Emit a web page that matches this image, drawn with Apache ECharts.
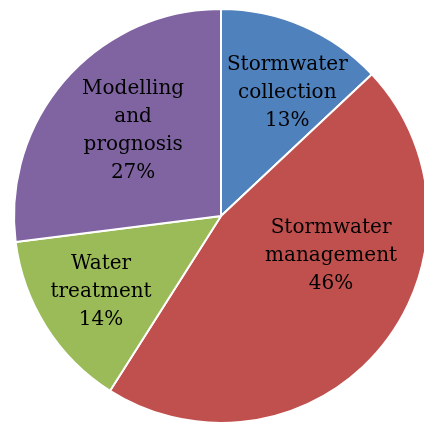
<!DOCTYPE html>
<html>
<head>
<meta charset="utf-8">
<script src="https://cdn.jsdelivr.net/npm/echarts@6/dist/echarts.min.js"></script>
<style>html,body{margin:0;padding:0;background:#fff;}#c{width:424px;height:428px;}</style>
</head>
<body>
<div id="c"></div>
<script>
const categories = ['Stormwater collection', 'Stormwater management', 'Water treatment', 'Modelling and prognosis'];
const values = [13, 46, 14, 27];
const colors = ['#4F81BD', '#C0504D', '#9BBB59', '#8064A2'];
const labelOffsets = [[24, -25], [28, -28], [-30, 19], [-8, -15]];

const chart = echarts.init(document.getElementById('c'), null, {renderer: 'canvas'});
chart.setOption({
  animation: false,
  series: [{
    type: 'pie',
    center: [221, 216],
    radius: 207,
    startAngle: 90,
    clockwise: true,
    avoidLabelOverlap: false,
    itemStyle: {borderColor: '#fff', borderWidth: 2},
    label: {
      position: 'inside',
      color: '#000',
      fontFamily: 'DejaVu Serif',
      fontSize: 20,
      lineHeight: 28,
      align: 'center',
      formatter: p => p.name.split(' ').join('\n') + '\n' + p.value + '%'
    },
    labelLine: {show: false},
    emphasis: {disabled: true},
    data: categories.map((n, i) => ({
      name: n, value: values[i],
      itemStyle: {color: colors[i]},
      label: {offset: labelOffsets[i]}
    }))
  }]
});
</script>
</body>
</html>
